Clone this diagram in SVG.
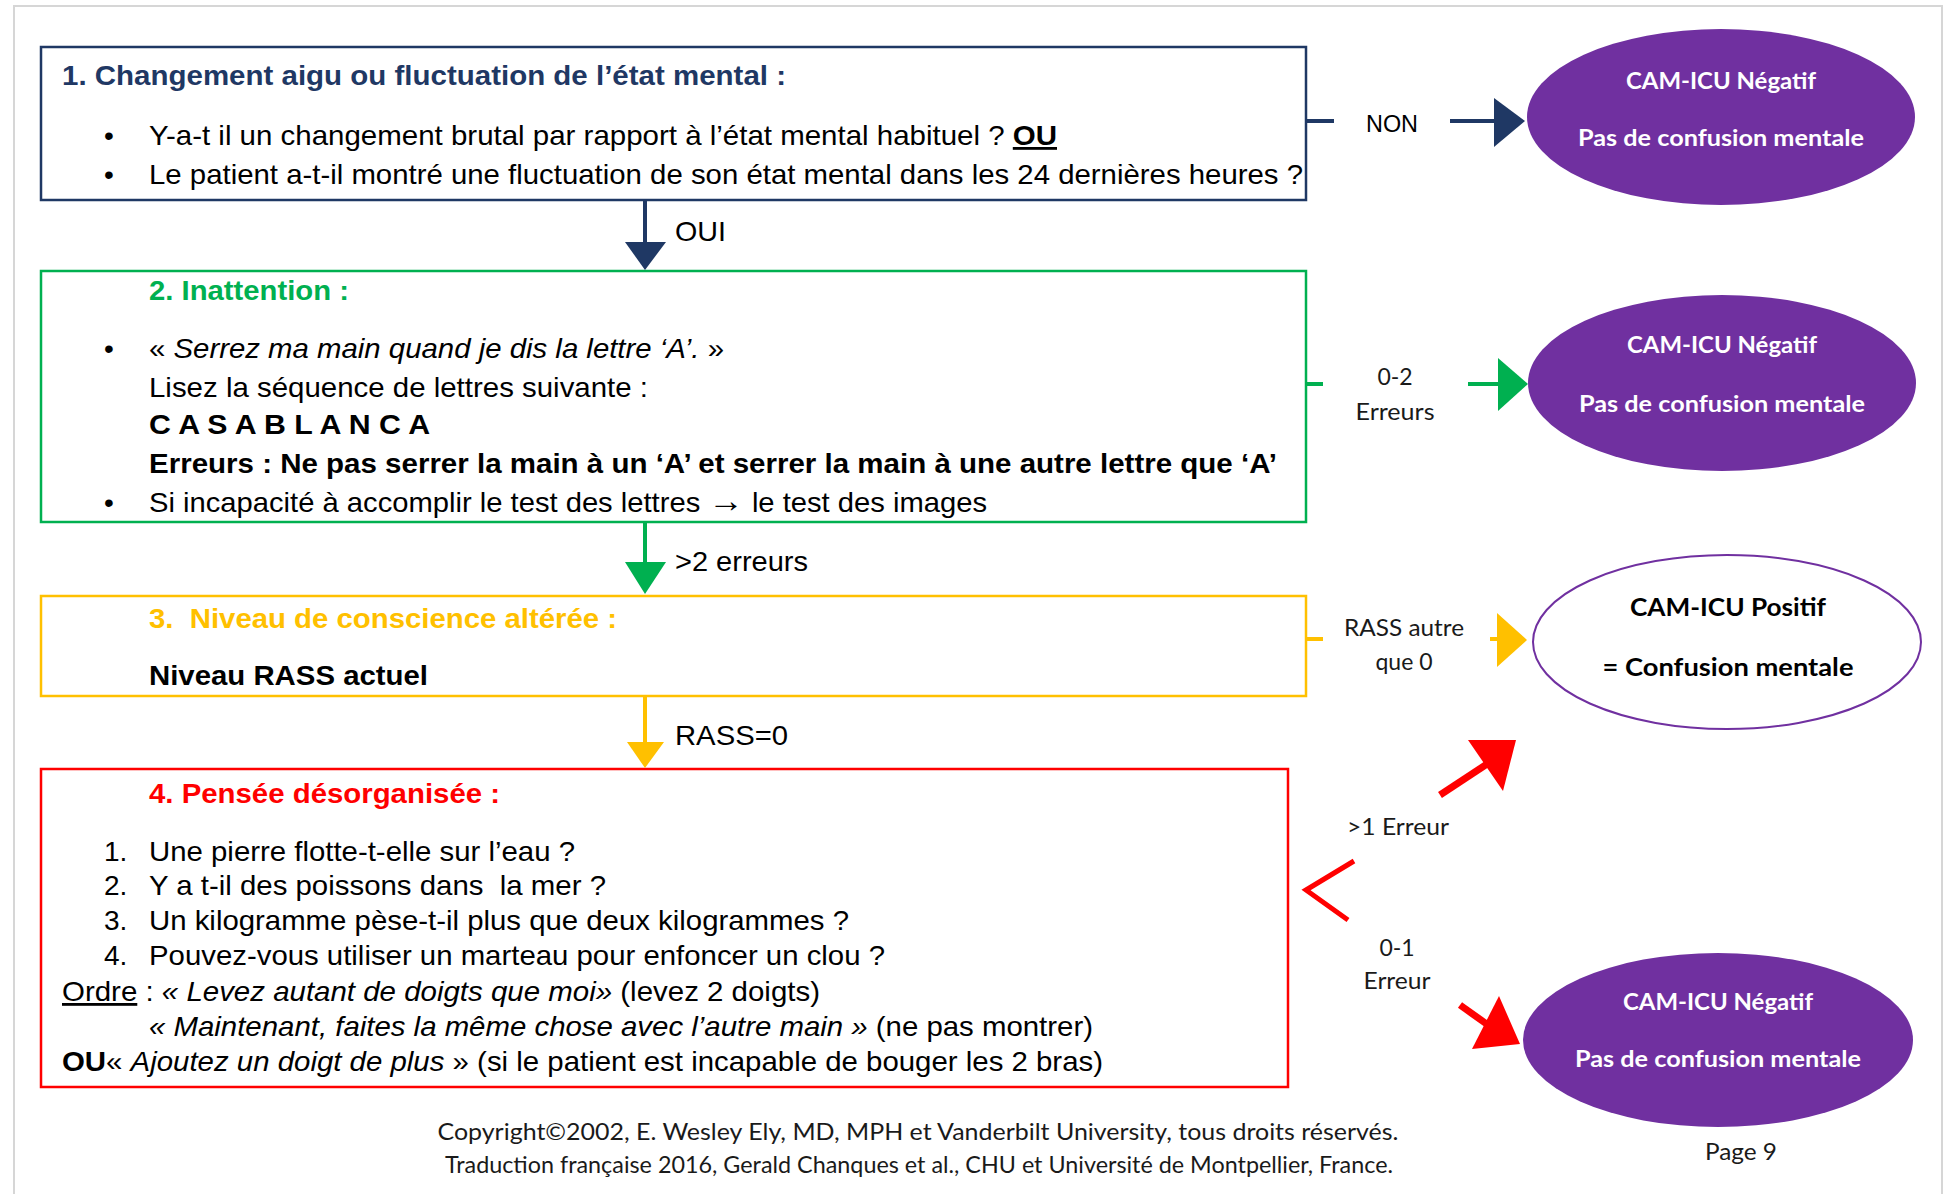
<svg xmlns="http://www.w3.org/2000/svg" width="1950" height="1194" viewBox="0 0 1950 1194">
<style>
.t{font-family:"Liberation Sans",Arial,sans-serif;font-size:28px;fill:#000}
.h{font-weight:bold;font-size:28px}
.b{font-weight:bold}
.i{font-style:italic}
.u{text-decoration:underline}
.lb{font-family:Lato,"Open Sans",sans-serif;font-size:23px;fill:#1a1a1a;text-anchor:middle}
.et{font-family:Lato,"Open Sans",sans-serif;font-size:23px;font-weight:bold;fill:#fff;text-anchor:middle}
.box{fill:#fff;stroke-width:2.5}
.stem{fill:none;stroke-width:4}
</style>
<rect x="0" y="0" width="1950" height="1194" fill="#fff"/>
<g id="page" fill="none" stroke="#d6d6d6" stroke-width="2">
<path d="M14 1194 V6 H1942 V1194"/>
</g>
<g id="node1">
<rect class="box" x="41" y="47" width="1265" height="153" stroke="#1F3864"/>
<text class="t h" x="62" y="85" style="fill:#1F3864" textLength="724" lengthAdjust="spacingAndGlyphs">1. Changement aigu ou fluctuation de l’état mental :</text>
<text class="t" x="104" y="145">•</text>
<text class="t" x="149" y="145" textLength="908" lengthAdjust="spacingAndGlyphs">Y-a-t il un changement brutal par rapport à l’état mental habituel ? <tspan class="b u">OU</tspan></text>
<text class="t" x="104" y="184">•</text>
<text class="t" x="149" y="184" textLength="1154" lengthAdjust="spacingAndGlyphs">Le patient a-t-il montré une fluctuation de son état mental dans les 24 dernières heures ?</text>
</g>
<g id="node2">
<rect class="box" x="41" y="271" width="1265" height="251" stroke="#00B050"/>
<text class="t h" x="149" y="300" style="fill:#00B050" textLength="200" lengthAdjust="spacingAndGlyphs">2. Inattention :</text>
<text class="t" x="104" y="358">•</text>
<text class="t" x="149" y="358" textLength="575" lengthAdjust="spacingAndGlyphs">« <tspan class="i">Serrez ma main quand je dis la lettre ‘A’.</tspan> »</text>
<text class="t" x="149" y="397" textLength="499" lengthAdjust="spacingAndGlyphs">Lisez la séquence de lettres suivante :</text>
<text class="t b" x="149" y="434" textLength="281" lengthAdjust="spacingAndGlyphs">C A S A B L A N C A</text>
<text class="t b" x="149" y="473" textLength="1128" lengthAdjust="spacingAndGlyphs">Erreurs : Ne pas serrer la main à un ‘A’ et serrer la main à une autre lettre que ‘A’</text>
<text class="t" x="104" y="512">•</text>
<text class="t" x="149" y="512" textLength="838" lengthAdjust="spacingAndGlyphs">Si incapacité à accomplir le test des lettres <tspan style="font-size:34px">→</tspan> le test des images</text>
</g>
<g id="node3">
<rect class="box" x="41" y="596" width="1265" height="100" stroke="#FFC000"/>
<text class="t h" x="149" y="628" style="fill:#FFC000" xml:space="preserve" textLength="468" lengthAdjust="spacingAndGlyphs">3.  Niveau de conscience altérée :</text>
<text class="t b" x="149" y="685" textLength="279" lengthAdjust="spacingAndGlyphs">Niveau RASS actuel</text>
</g>
<g id="node4">
<rect class="box" x="41" y="769" width="1247" height="318" stroke="#FF0000"/>
<text class="t h" x="149" y="803" style="fill:#FF0000" textLength="351" lengthAdjust="spacingAndGlyphs">4. Pensée désorganisée :</text>
<text class="t" x="104" y="861">1.</text>
<text class="t" x="149" y="861" textLength="426" lengthAdjust="spacingAndGlyphs">Une pierre flotte-t-elle sur l’eau ?</text>
<text class="t" x="104" y="895">2.</text>
<text class="t" x="149" y="895" xml:space="preserve" textLength="457" lengthAdjust="spacingAndGlyphs">Y a t-il des poissons dans  la mer ?</text>
<text class="t" x="104" y="930">3.</text>
<text class="t" x="149" y="930" textLength="700" lengthAdjust="spacingAndGlyphs">Un kilogramme pèse-t-il plus que deux kilogrammes ?</text>
<text class="t" x="104" y="965">4.</text>
<text class="t" x="149" y="965" textLength="736" lengthAdjust="spacingAndGlyphs">Pouvez-vous utiliser un marteau pour enfoncer un clou ?</text>
<text class="t" x="62" y="1001" textLength="758" lengthAdjust="spacingAndGlyphs"><tspan class="u">Ordre</tspan> : <tspan class="i">« Levez autant de doigts que moi»</tspan> (levez 2 doigts)</text>
<text class="t" x="149" y="1036" textLength="944" lengthAdjust="spacingAndGlyphs"><tspan class="i">« Maintenant, faites la même chose avec l’autre main »</tspan> (ne pas montrer)</text>
<text class="t" x="62" y="1071" textLength="1041" lengthAdjust="spacingAndGlyphs"><tspan class="b">OU</tspan>« <tspan class="i">Ajoutez un doigt de plus</tspan> » (si le patient est incapable de bouger les 2 bras)</text>
</g>
<g id="result1">
<ellipse cx="1721" cy="117" rx="194" ry="88" fill="#7030A0"/>
<text class="et" x="1721" y="89" textLength="190" lengthAdjust="spacingAndGlyphs">CAM-ICU Négatif</text>
<text class="et" x="1721" y="146" textLength="286" lengthAdjust="spacingAndGlyphs">Pas de confusion mentale</text>
</g>
<g id="result2">
<ellipse cx="1722" cy="383" rx="194" ry="88" fill="#7030A0"/>
<text class="et" x="1722" y="353" textLength="190" lengthAdjust="spacingAndGlyphs">CAM-ICU Négatif</text>
<text class="et" x="1722" y="412" textLength="286" lengthAdjust="spacingAndGlyphs">Pas de confusion mentale</text>
</g>
<g id="result3">
<ellipse cx="1727" cy="642" rx="194" ry="87" fill="#fff" stroke="#7030A0" stroke-width="2"/>
<text class="et" x="1728" y="616" style="fill:#000;font-size:25px" textLength="196" lengthAdjust="spacingAndGlyphs">CAM-ICU Positif</text>
<text class="et" x="1728" y="676" style="fill:#000;font-size:25px" textLength="251" lengthAdjust="spacingAndGlyphs">= Confusion mentale</text>
</g>
<g id="result4">
<ellipse cx="1718" cy="1040" rx="195" ry="87" fill="#7030A0"/>
<text class="et" x="1718" y="1010" textLength="190" lengthAdjust="spacingAndGlyphs">CAM-ICU Négatif</text>
<text class="et" x="1718" y="1067" textLength="286" lengthAdjust="spacingAndGlyphs">Pas de confusion mentale</text>
</g>
<g id="connectors">
<line class="stem" x1="645" y1="200" x2="645" y2="246" stroke="#1F3864"/>
<polygon points="625,242 666,242 645,270" fill="#1F3864"/>
<text class="t" x="675" y="241" textLength="51" lengthAdjust="spacingAndGlyphs">OUI</text>
<line class="stem" x1="645" y1="522" x2="645" y2="566" stroke="#00B050"/>
<polygon points="625,562 666,562 645,594" fill="#00B050"/>
<text class="t" x="675" y="571" textLength="133" lengthAdjust="spacingAndGlyphs">&gt;2 erreurs</text>
<line class="stem" x1="645" y1="696" x2="645" y2="746" stroke="#FFC000"/>
<polygon points="627,742 664,742 645,768" fill="#FFC000"/>
<text class="t" x="675" y="745" textLength="113" lengthAdjust="spacingAndGlyphs">RASS=0</text>
<line class="stem" x1="1306" y1="121" x2="1334" y2="121" stroke="#1F3864"/>
<text class="t" x="1392" y="132" style="font-size:23px;text-anchor:middle" textLength="52" lengthAdjust="spacingAndGlyphs">NON</text>
<line class="stem" x1="1450" y1="121" x2="1497" y2="121" stroke="#1F3864"/>
<polygon points="1494,98 1525,121 1494,147" fill="#1F3864"/>
<line class="stem" x1="1306" y1="384" x2="1323" y2="384" stroke="#00B050"/>
<text class="lb" x="1395" y="385">0-2</text>
<text class="lb" x="1395" y="420" textLength="79" lengthAdjust="spacingAndGlyphs">Erreurs</text>
<line class="stem" x1="1468" y1="384" x2="1500" y2="384" stroke="#00B050"/>
<polygon points="1498,358 1528,384 1498,411" fill="#00B050"/>
<line class="stem" x1="1306" y1="639" x2="1323" y2="639" stroke="#FFC000"/>
<text class="lb" x="1404" y="636" textLength="120" lengthAdjust="spacingAndGlyphs">RASS autre</text>
<text class="lb" x="1404" y="670">que 0</text>
<line class="stem" x1="1490" y1="639" x2="1500" y2="639" stroke="#FFC000"/>
<polygon points="1497,613 1527,640 1497,667" fill="#FFC000"/>
<polyline points="1354,861 1306,890 1348,920" fill="none" stroke="#FF0000" stroke-width="5"/>
<text class="lb" x="1398" y="835" textLength="102" lengthAdjust="spacingAndGlyphs">&gt;1 Erreur</text>
<line x1="1440" y1="795" x2="1487" y2="764" stroke="#FF0000" stroke-width="7"/>
<polygon points="1468,740 1516,740 1503,791" fill="#FF0000"/>
<text class="lb" x="1397" y="956">0-1</text>
<text class="lb" x="1397" y="989" textLength="67" lengthAdjust="spacingAndGlyphs">Erreur</text>
<line x1="1460" y1="1005" x2="1488" y2="1025" stroke="#FF0000" stroke-width="7"/>
<polygon points="1499,996 1520,1044 1472,1049" fill="#FF0000"/>
</g>
<g id="footer">
<text class="lb" x="918" y="1140" textLength="961" lengthAdjust="spacingAndGlyphs">Copyright©2002, E. Wesley Ely, MD, MPH et Vanderbilt University, tous droits réservés.</text>
<text class="lb" x="919" y="1173" textLength="948" lengthAdjust="spacingAndGlyphs">Traduction française 2016, Gerald Chanques et al., CHU et Université de Montpellier, France.</text>
<text class="lb" x="1741" y="1160" textLength="72" lengthAdjust="spacingAndGlyphs">Page 9</text>
</g>
</svg>
